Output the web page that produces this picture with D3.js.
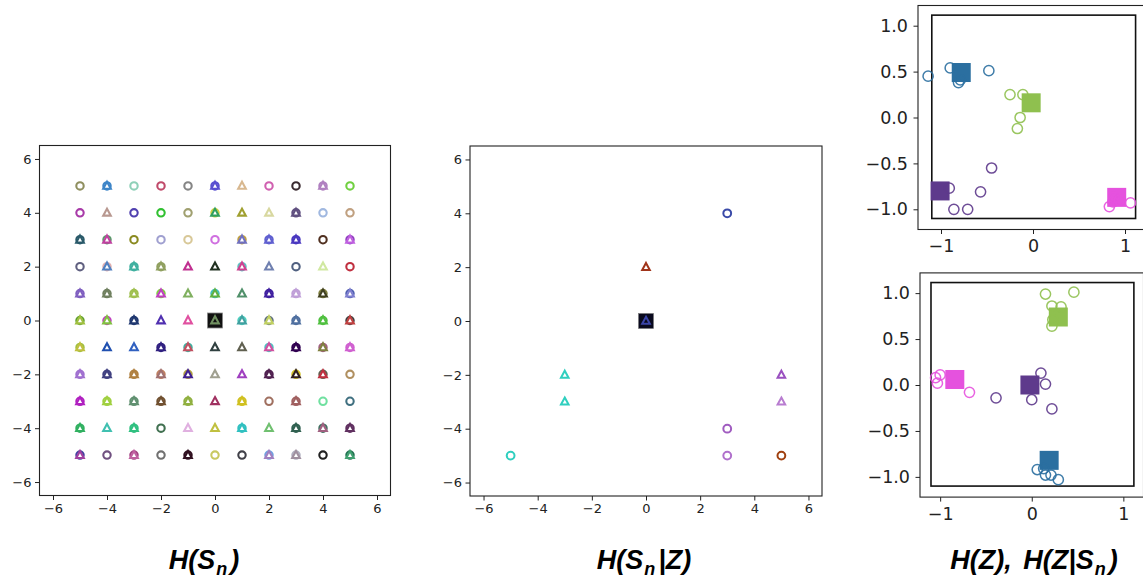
<!DOCTYPE html>
<html>
<head>
<meta charset="utf-8">
<script src="https://cdn.jsdelivr.net/npm/d3@7"></script>
<style>
  html, body { margin: 0; padding: 0; background: #fff; }
  svg { display: block; }
  .tick text { font-family: "DejaVu Sans", sans-serif; fill: #222; }
  .title { font-family: "Liberation Sans", Arial, sans-serif; font-weight: bold; font-style: italic; fill: #000; }
</style>
</head>
<body>
<svg id="chart" width="1143" height="582"></svg>
<script>
// ---------------- DATA ----------------
const gridTicks = [-6, -4, -2, 0, 2, 4, 6];
const gridXs = [-5, -4, -3, -2, -1, 0, 1, 2, 3, 4, 5];
const gridYs = [5, 4, 3, 2, 1, 0, -1, -2, -3, -4, -5];
// per cell: "o#col" circle, "^#col" triangle, both may appear
const gridRow5  = ["o#8f8f5f", "o#3d85c8^#3d85c8", "o#8fd0b8", "o#c04a6a", "o#858585", "o#5a50d0^#5a50d0", "^#d8b890", "o#d060b0", "o#3a2a30", "o#b080c0^#b080c0", "o#70d040"];
const gridRow4  = ["o#a83aa8", "^#b89890", "o#5040b0", "o#30c030", "o#a0a070", "o#d0d040^#30a060", "^#a0a030", "^#d8d8a0", "o#605080^#605080", "o#a0b8e0", "o#c0a080"];
const gridRow3  = ["o#2a5a6a^#2a5a6a", "o#5a9a6a^#c040a0", "o#8a8a20", "o#a0a0d0", "o#d8c898", "o#d070e0", "o#c0a040^#7070c0", "o#6060d0^#6060d0", "o#4a38c0^#4a38c0", "o#503020", "o#9040c0^#c060e0"];
const gridRow2  = ["o#606080", "o#e0b0b0^#5080c0", "o#40b0a0^#40b0a0", "o#90a060^#90a060", "^#c03090", "^#203020", "o#60c0c0^#d04090", "^#7080b0", "o#506080", "^#d0e8a0", "o#c03040"];
const gridRow1  = ["o#8060c0^#8060c0", "o#708060^#708060", "o#a0c050^#a0c050", "o#80d040^#c040c0", "^#80b060", "o#40c0c0^#60b040", "^#50906a", "o#4020a0^#4020a0", "o#c0a0d8^#c0a0d8", "o#808040^#404020", "o#5060b0^#8080d0"];
const gridRow0  = ["o#60a030^#a0c040", "o#c040c0^#80c040", "o#203870^#203870", "^#5030b0", "^#e050a0", "^#709060", "o#50d0c0^#40a0a0", "o#607080^#c0d060", "o#5070a0^#5070a0", "o#50c040^#50c040", "o#404040^#c04040"];
const gridRowM1 = ["o#a0c040^#c0c040", "^#2050b0", "^#3060c0", "o#302080^#302080", "o#40b0a0^#c05060", "^#304040", "^#606050", "o#50c0c0^#d050a0", "o#300050^#300050", "o#a06080^#808040", "o#d060d0^#d060d0"];
const gridRowM2 = ["o#a070d0^#a070d0", "o#404080^#404080", "o#b08040^#b08040", "o#c08060^#a07070", "o#b0a040^#402090", "^#a0a090", "^#a040c0", "o#502050^#502050", "o#d0c020^#302020", "o#606050^#c03040", "o#b09060"];
const gridRowM3 = ["o#b020c0^#b020c0", "o#a0d040^#a0d040", "o#609070^#609070", "o#705030^#705030", "o#90b040^#90b040", "^#a03060", "o#d0c020^#d0c020", "o#a07060", "o#a06060^#a06060", "o#70e0a0", "o#407080"];
const gridRowM4 = ["o#30b060^#30b060", "^#40c0b0", "o#30c080^#30c080", "o#407050", "^#e0b0e0", "^#c0c040", "o#30c0c0^#30c0c0", "^#70c070", "o#306050^#306050", "o#407060^#a06080", "o#603060^#603060"];
const gridRowM5 = ["o#4040a0^#a040a0", "o#705080", "o#a04080^#c060a0", "o#707070", "o#301020^#301020", "o#c8c860", "o#404048", "o#70a0e0^#a080c0", "o#b0b0c0^#a090a0", "o#202020", "o#207050^#40a070"];
const gridRows = [gridRow5, gridRow4, gridRow3, gridRow2, gridRow1, gridRow0, gridRowM1, gridRowM2, gridRowM3, gridRowM4, gridRowM5];
const gridHighlight = { x: 0, y: 0 };

// middle panel: sparse points
const condX      = [3, 0, -3, -3, -5, 3, 3, 5, 5, 5, 0];
const condY      = [4, 2, -2, -3, -5, -4, -5, -2, -3, -5, 0];
const condShape  = ["o", "^", "^", "^", "o", "o", "o", "^", "^", "o", "^"];
const condColor  = ["#3a4aa8", "#a0341a", "#2fcfbf", "#2fcfbf", "#2fcfbf", "#a05cc0", "#b070cc", "#9a50c0", "#b87cd0", "#a0400f", "#3b45a8"];
const condHighlight = { x: 0, y: 0 };

// right panels
const rightTicksX = [-1, 0, 1];
const rightTicksY = [-1.0, -0.5, 0.0, 0.5, 1.0];
const boxBounds = [-1.1, 1.115];
const clusterColors = ["#2b6fa0", "#8fc04f", "#5e3a8c", "#e552de"];

// H(Z): centers and samples
const hzCenterX = [-0.78, -0.02, -1.01, 0.91];
const hzCenterY = [0.49, 0.16, -0.80, -0.87];
const hzPtX = [-1.14, -0.90, -0.81, -0.79, -0.48,  -0.25, -0.11, -0.14, -0.17,  -0.91, -0.86, -0.71, -0.57, -0.45,  0.88, 0.83, 1.06, 0.87, 0.94];
const hzPtY = [0.45, 0.54, 0.38, 0.41, 0.51,  0.25, 0.25, 0.00, -0.12,  -0.77, -1.00, -1.00, -0.81, -0.55,  -0.87, -0.97, -0.93, -0.92, -0.90];
const hzPtC = [0, 0, 0, 0, 0,  1, 1, 1, 1,  2, 2, 2, 2, 2,  3, 3, 3, 3, 3];

// H(Z|S_n): centers and samples
const hzsCenterX = [0.19, 0.29, -0.02, -0.84];
const hzsCenterY = [-0.82, 0.74, 0.00, 0.06];
const hzsPtX = [0.06, 0.15, 0.21, 0.29, 0.13,  0.15, 0.46, 0.22, 0.32, 0.22, 0.23,  0.10, 0.15, 0.00, 0.22, -0.39,  -1.05, -1.00, -1.03, -0.68];
const hzsPtY = [-0.92, -0.98, -0.98, -1.03, -0.91,  0.99, 1.01, 0.86, 0.85, 0.64, 0.71,  0.13, 0.01, -0.16, -0.26, -0.14,  0.08, 0.11, 0.02, -0.08];
const hzsPtC = [0, 0, 0, 0, 0,  1, 1, 1, 1, 1, 1,  2, 2, 2, 2, 2,  3, 3, 3, 3];

const titles = ["H(S", "H(S", "H(Z), H(Z|S"];

// ---------------- DRAW ----------------
const svg = d3.select("#chart");
const tri = r => `M0,${-r * 1.1}L${r},${r * 0.75}L${-r},${r * 0.75}Z`;

function frameAxes(g, x, y, xt, yt, fs, pad, fmtY, fmtX) {
  const xa = d3.axisBottom(x).tickValues(xt).tickSize(4.5).tickPadding(pad).tickFormat(fmtX);
  const ya = d3.axisLeft(y).tickValues(yt).tickSize(4.5).tickPadding(pad).tickFormat(fmtY);
  const [x0, x1] = x.range(), [y0, y1] = y.range();
  g.append("g").attr("transform", `translate(0,${y0})`).call(xa)
    .call(s => s.select(".domain").remove())
    .call(s => s.selectAll("text").style("font-size", fs + "px"))
    .call(s => s.selectAll("line").attr("stroke", "#222"));
  g.append("g").attr("transform", `translate(${x0},0)`).call(ya)
    .call(s => s.select(".domain").remove())
    .call(s => s.selectAll("text").style("font-size", fs + "px"))
    .call(s => s.selectAll("line").attr("stroke", "#222"));
  g.append("rect").attr("x", x0).attr("y", y1).attr("width", x1 - x0).attr("height", y0 - y1)
    .attr("fill", "none").attr("stroke", "#222").attr("stroke-width", 1.1);
}
const fmtInt = d => d < 0 ? "\u2212" + Math.abs(d) : String(d);
const fmt1 = d => (d < 0 ? "\u2212" : "") + Math.abs(d).toFixed(1);

// Panel 1: H(S_n)
{
  const x = d3.scaleLinear().domain([-6.5, 6.5]).range([39.5, 390.5]);
  const y = d3.scaleLinear().domain([-6.5, 6.5]).range([495.5, 145.5]);
  const g = svg.append("g");
  frameAxes(g, x, y, gridTicks, gridTicks, 13, 3.5, fmtInt, fmtInt);
  g.append("rect").attr("x", x(gridHighlight.x) - 7.5).attr("y", y(gridHighlight.y) - 7.5)
    .attr("width", 15).attr("height", 15).attr("fill", "#111").attr("stroke", "#888").attr("stroke-width", 0.8);
  gridRows.forEach((row, ri) => {
    row.forEach((cell, ci) => {
      const cx = x(gridXs[ci]), cy = y(gridYs[ri]);
      const parts = cell.match(/[o^]#[0-9a-fA-F]{6}/g);
      parts.forEach(p => {
        const col = p.slice(1);
        if (p[0] === "o") {
          g.append("circle").attr("cx", cx).attr("cy", cy).attr("r", 3.7)
            .attr("fill", "none").attr("stroke", col).attr("stroke-width", 2.1);
        } else {
          g.append("path").attr("d", tri(3.8)).attr("transform", `translate(${cx},${cy})`)
            .attr("fill", "none").attr("stroke", col).attr("stroke-width", 2.1).attr("stroke-linejoin", "miter");
        }
      });
    });
  });
}

// Panel 2: H(S_n|Z)
{
  const x = d3.scaleLinear().domain([-6.5, 6.5]).range([470, 822]);
  const y = d3.scaleLinear().domain([-6.5, 6.5]).range([496, 146]);
  const g = svg.append("g");
  frameAxes(g, x, y, gridTicks, gridTicks, 13, 3.5, fmtInt, fmtInt);
  g.append("rect").attr("x", x(condHighlight.x) - 7.5).attr("y", y(condHighlight.y) - 7.5)
    .attr("width", 15).attr("height", 15).attr("fill", "#0a0a1e").attr("stroke", "#777").attr("stroke-width", 0.6);
  condX.forEach((vx, i) => {
    const cx = x(vx), cy = y(condY[i]);
    if (condShape[i] === "o") {
      g.append("circle").attr("cx", cx).attr("cy", cy).attr("r", 3.9)
        .attr("fill", "none").attr("stroke", condColor[i]).attr("stroke-width", 2);
    } else {
      g.append("path").attr("d", tri(3.8)).attr("transform", `translate(${cx},${cy})`)
        .attr("fill", "none").attr("stroke", condColor[i]).attr("stroke-width", 2);
    }
  });
}

// Panels 3 & 4
function clusterPanel(xr, yr, xd, yd, cX, cY, pX, pY, pC) {
  const x = d3.scaleLinear().domain(xd).range(xr);
  const y = d3.scaleLinear().domain(yd).range(yr);
  const g = svg.append("g");
  frameAxes(g, x, y, rightTicksX, rightTicksY, 17.5, 5.5, fmt1, d => d < 0 ? "\u2212" + Math.abs(d) : String(d));
  g.append("rect").attr("x", x(boxBounds[0])).attr("y", y(boxBounds[1]))
    .attr("width", x(boxBounds[1]) - x(boxBounds[0])).attr("height", y(boxBounds[0]) - y(boxBounds[1]))
    .attr("fill", "none").attr("stroke", "#111").attr("stroke-width", 1.6);
  cX.forEach((vx, i) => {
    g.append("rect").attr("x", x(vx) - 9.5).attr("y", y(cY[i]) - 9.5).attr("width", 19).attr("height", 19)
      .attr("fill", clusterColors[i]);
  });
  pX.forEach((vx, i) => {
    g.append("circle").attr("cx", x(vx)).attr("cy", y(pY[i])).attr("r", 5.1)
      .attr("fill", "none").attr("stroke", clusterColors[pC[i]]).attr("stroke-width", 1.5).attr("stroke-opacity", 0.9);
  });
}
clusterPanel([918, 1148], [229.5, 5.5], [-1.25, 1.25], [-1.22, 1.22], hzCenterX, hzCenterY, hzPtX, hzPtY, hzPtC);
clusterPanel([920, 1143.5], [497.1, 272.9], [-1.22, 1.22], [-1.22, 1.22], hzsCenterX, hzsCenterY, hzsPtX, hzsPtY, hzsPtC);

// Titles
function title(cx, main, after, gap) {
  const t = svg.append("text").attr("class", "title").attr("x", cx).attr("y", 569)
    .attr("text-anchor", "middle").style("font-size", "27px");
  t.append("tspan").text(main).style("word-spacing", gap + "px");
  t.append("tspan").text("n").style("font-size", "18px").attr("dy", 6).attr("dx", 1);
  t.append("tspan").text(after).attr("dy", -6).attr("dx", 3);
}
title(204, titles[0], ")", 0);
title(644, titles[1], "|Z)", 0);
title(1034, titles[2], ")", 4);
</script>
</body>
</html>
